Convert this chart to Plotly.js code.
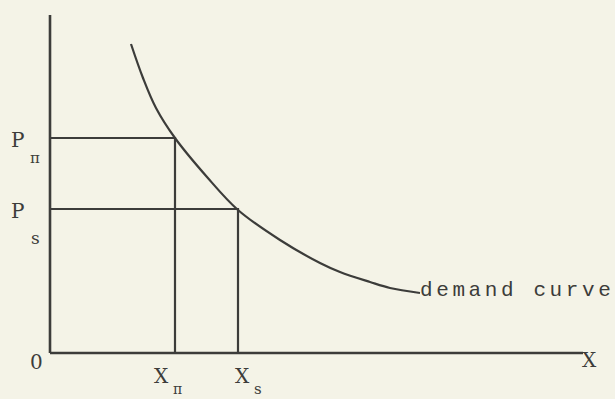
<!DOCTYPE html>
<html>
<head>
<meta charset="utf-8">
<script src="https://cdn.plot.ly/plotly-3.0.1.min.js"></script>
<style>
html,body{margin:0;padding:0;background:#f4f3e7;}
#chart{width:615px;height:399px;}
.textpoint text{letter-spacing:3.6px;}
</style>
</head>
<body>
<div id="chart"></div>
<script>
// Demand curve (quantity X, price P)
const curveX = [81, 93, 106, 125, 157, 188, 230, 270, 290, 320, 340, 370];
const curveP = [309, 275, 245, 215, 176, 143, 113, 90, 81, 71, 65, 60];
const curveLabel = "demand curve";
// Key quantities / prices
const quantityLabels = ["X", "X"];
const quantitySubs = ["\u03c0", "s"];
const quantities = [125, 188];   // X_pi, X_s
const priceLabels = ["P", "P"];
const priceSubs = ["\u03c0", "s"];
const prices = [215, 144];       // P_pi, P_s
// Axis extents
const xAxisEnd = 533;
const yAxisEnd = 338;

const ink = '#3c3c3a';
const mono = 'Liberation Mono, Courier New, monospace';
const serif = 'DejaVu Serif, Liberation Serif, serif';

const traces = [];
traces.push({x:[0, xAxisEnd], y:[0, 0], mode:'lines', line:{color:ink, width:2.6}, hoverinfo:'skip'});
traces.push({x:[0, 0], y:[0, yAxisEnd], mode:'lines', line:{color:ink, width:2.6}, hoverinfo:'skip'});
for (let i = 0; i < quantities.length; i++) {
  traces.push({x:[0, quantities[i], quantities[i]], y:[prices[i], prices[i], 0], mode:'lines',
    line:{color:ink, width:2.2}, hoverinfo:'skip'});
}
traces.push({x:curveX, y:curveP, mode:'lines', line:{color:ink, width:2.2, shape:'spline', smoothing:1}, hoverinfo:'skip'});
// curve label, anchored at its left end (last curve point)
const n = curveX.length - 1;
traces.push({x:[curveX[n]], y:[curveP[n] + 2], mode:'text', text:[curveLabel], textposition:'middle right',
  textfont:{family:mono, size:21, color:ink}, hoverinfo:'skip'});

const ann = [];
function t(x, y, text, size, family) {
  ann.push({x:x, y:y, xref:'x', yref:'y', text:text, showarrow:false,
    xanchor:'center', yanchor:'middle', font:{family:family, size:size, color:ink}});
}
const subDy = [-20, -29];
for (let i = 0; i < prices.length; i++) {
  t(-33, prices[i] - 2, priceLabels[i], 20, serif);
  t(-15, prices[i] + subDy[i], priceSubs[i], i === 0 ? 15 : 17, serif);
}
const labDx = [-14, 4];
const subDx = [2, 20];
for (let i = 0; i < quantities.length; i++) {
  t(quantities[i] + labDx[i], -23, quantityLabels[i], 20, serif);
  t(quantities[i] + subDx[i], -36, quantitySubs[i], i === 0 ? 14 : 15, serif);
}
t(-14, -9, '0', 20, serif);
t(539, -7, 'X', 20, serif);

Plotly.newPlot('chart', traces, {
  width:615, height:399,
  margin:{l:0, r:0, t:0, b:0},
  paper_bgcolor:'#f4f3e7', plot_bgcolor:'#f4f3e7',
  showlegend:false,
  xaxis:{range:[-50, 565], visible:false, fixedrange:true},
  yaxis:{range:[-46, 353], visible:false, fixedrange:true},
  annotations:ann
}, {staticPlot:true});
</script>
</body>
</html>
